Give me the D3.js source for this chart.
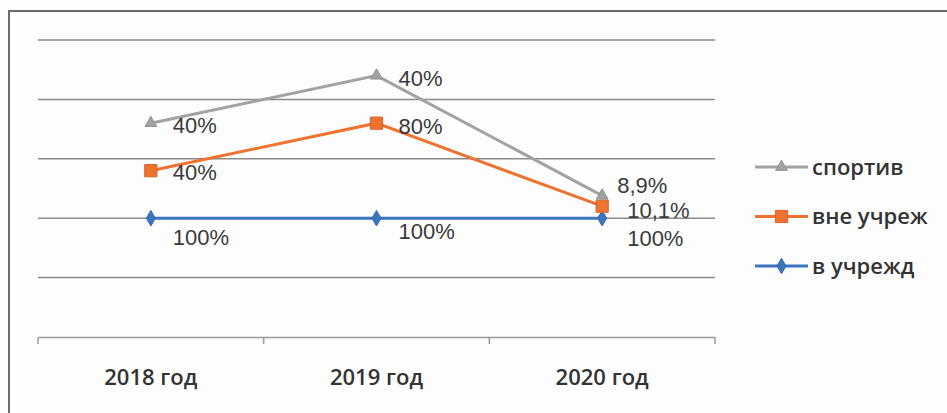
<!DOCTYPE html>
<meta charset="utf-8">
<style>
  body { margin: 0; background: #fdfdfd; }
  svg { display: block; }
</style>
<body>
<div id="chart"></div>
<script src="https://cdnjs.cloudflare.com/ajax/libs/d3/7.8.5/d3.min.js"></script>
<script>

// data
var years = ["2018 год", "2019 год", "2020 год"];
var seriesNames = ["в учрежд", "вне учреж", "спортив"];   // stacking order, bottom first
var vUchrezhd = [1, 1, 1];
var vneUchrezh = [0.4, 0.8, 0.101];
var sportiv = [0.4, 0.4, 0.089];
var labelsVUchrezhd = ["100%", "100%", "100%"];
var labelsVne = ["40%", "80%", "10,1%"];
var labelsSport = ["40%", "40%", "8,9%"];
var yTicks = [0, 0.5, 1, 1.5, 2, 2.5];

var W = 947, H = 413;
var margin = {top: 40, right: 232, bottom: 76, left: 38};
var width = W - margin.left - margin.right,
    height = H - margin.top - margin.bottom;

var svg = d3.select("#chart").append("svg")
    .attr("width", W)
    .attr("height", H);

// outer frame (only left + top visible in the scan)
svg.append("path")
  .attr("d", "M9,420 L9,11 L960,11")
  .attr("fill", "none")
  .attr("stroke", "#6b6b6b")
  .attr("stroke-width", 2);

var g = svg.append("g")
  .attr("transform", "translate(" + margin.left + "," + margin.top + ")");

var x = d3.scaleBand().domain(years).range([0, width]);
var y = d3.scaleLinear().domain([0, 2.5]).range([height, 0]);

// gridlines
g.selectAll(".grid")
  .data(yTicks.slice(1))
  .enter().append("line")
    .attr("x1", 0).attr("x2", width)
    .attr("y1", function(d) { return y(d); })
    .attr("y2", function(d) { return y(d); })
    .attr("stroke", "#8a8a8a")
    .attr("stroke-width", 1.5);

// x axis
var xAxis = g.append("g")
  .attr("transform", "translate(0," + height + ")")
  .call(d3.axisBottom(x).tickSize(0).tickPadding(32));
xAxis.select(".domain").attr("stroke", "#9a9a9a").attr("stroke-width", 1.5);
xAxis.selectAll("text")
  .attr("font-family", "Open Sans, sans-serif")
  .attr("font-size", "22px")
  .attr("font-weight", 600)
  .attr("fill", "#333");
// tick marks at band boundaries
g.selectAll(".xtick")
  .data(d3.range(years.length + 1))
  .enter().append("line")
    .attr("x1", function(i) { return i * x.step(); })
    .attr("x2", function(i) { return i * x.step(); })
    .attr("y1", height).attr("y2", height + 7)
    .attr("stroke", "#9a9a9a")
    .attr("stroke-width", 1.5);

// stacked values
var table = years.map(function(yr, i) {
  return {year: yr, "в учрежд": vUchrezhd[i], "вне учреж": vneUchrezh[i], "спортив": sportiv[i]};
});
var stack = d3.stack().keys(seriesNames)(table);

var colors = {"в учрежд": "#3a76c0", "вне учреж": "#ee7230", "спортив": "#a2a2a2"};
var labels = {"в учрежд": labelsVUchrezhd, "вне учреж": labelsVne, "спортив": labelsSport};
var markerSize = {"в учрежд": 70, "вне учреж": 150, "спортив": 60};
// label offsets from the point (dx, dy of the text centre line)
var labelOffset = {
  "в учрежд": [[22, 19], [22, 13], [25, 20]],
  "вне учреж": [[22, 2], [22, 3], [25, 4]],
  "спортив": [[22, 2], [22, 3], [15, -10]]
};

var cx = function(i) { return x(years[i]) + x.bandwidth() / 2; };

var line = d3.line()
  .x(function(d, i) { return cx(i); })
  .y(function(d) { return y(d[1]); });

function marker(sel, name) {
  var type = name === "спортив" ? d3.symbolTriangle
           : name === "вне учреж" ? d3.symbolSquare : d3.symbolDiamond;
  sel.attr("d", d3.symbol().type(type).size(markerSize[name]))
     .attr("fill", colors[name])
     .attr("stroke", d3.color(colors[name]).darker(0.3))
     .attr("stroke-width", 1);
}

stack.forEach(function(s) {
  var name = s.key;
  g.append("path")
    .datum(s)
    .attr("d", line)
    .attr("fill", "none")
    .attr("stroke", colors[name])
    .attr("stroke-width", 3);

  g.selectAll(".m" + s.index)
    .data(s)
    .enter().append("path")
      .attr("transform", function(d, i) { return "translate(" + cx(i) + "," + y(d[1]) + ")"; })
      .call(marker, name);
});

// labels drawn after all lines
stack.forEach(function(s) {
  var name = s.key;
  g.selectAll(".l" + s.index)
    .data(s)
    .enter().append("text")
      .attr("x", function(d, i) { return cx(i) + labelOffset[name][i][0]; })
      .attr("y", function(d, i) { return y(d[1]) + labelOffset[name][i][1]; })
      .attr("dy", "0.35em")
      .attr("font-family", "Liberation Sans, Arial, sans-serif")
      .attr("font-size", "22px")
      .attr("fill", "#3a3a3a")
      .text(function(d, i) { return labels[name][i]; });
});

// legend
var legendOrder = ["спортив", "вне учреж", "в учрежд"];
var leg = svg.append("g").attr("transform", "translate(755,167)");
var item = leg.selectAll(".item")
  .data(legendOrder)
  .enter().append("g")
    .attr("transform", function(d, i) { return "translate(0," + (i * 49.5) + ")"; });
item.append("line")
  .attr("x1", 0).attr("x2", 53)
  .attr("stroke", function(d) { return colors[d]; })
  .attr("stroke-width", 3);
item.append("path")
  .attr("transform", "translate(26.5,0)")
  .each(function(d) { d3.select(this).call(marker, d); });
item.append("text")
  .attr("x", 57)
  .attr("dy", "0.35em")
  .attr("font-family", "Open Sans, sans-serif")
  .attr("font-size", "22px")
  .attr("font-weight", 600)
  .attr("fill", "#333")
  .text(function(d) { return d; });

</script>
</body>
